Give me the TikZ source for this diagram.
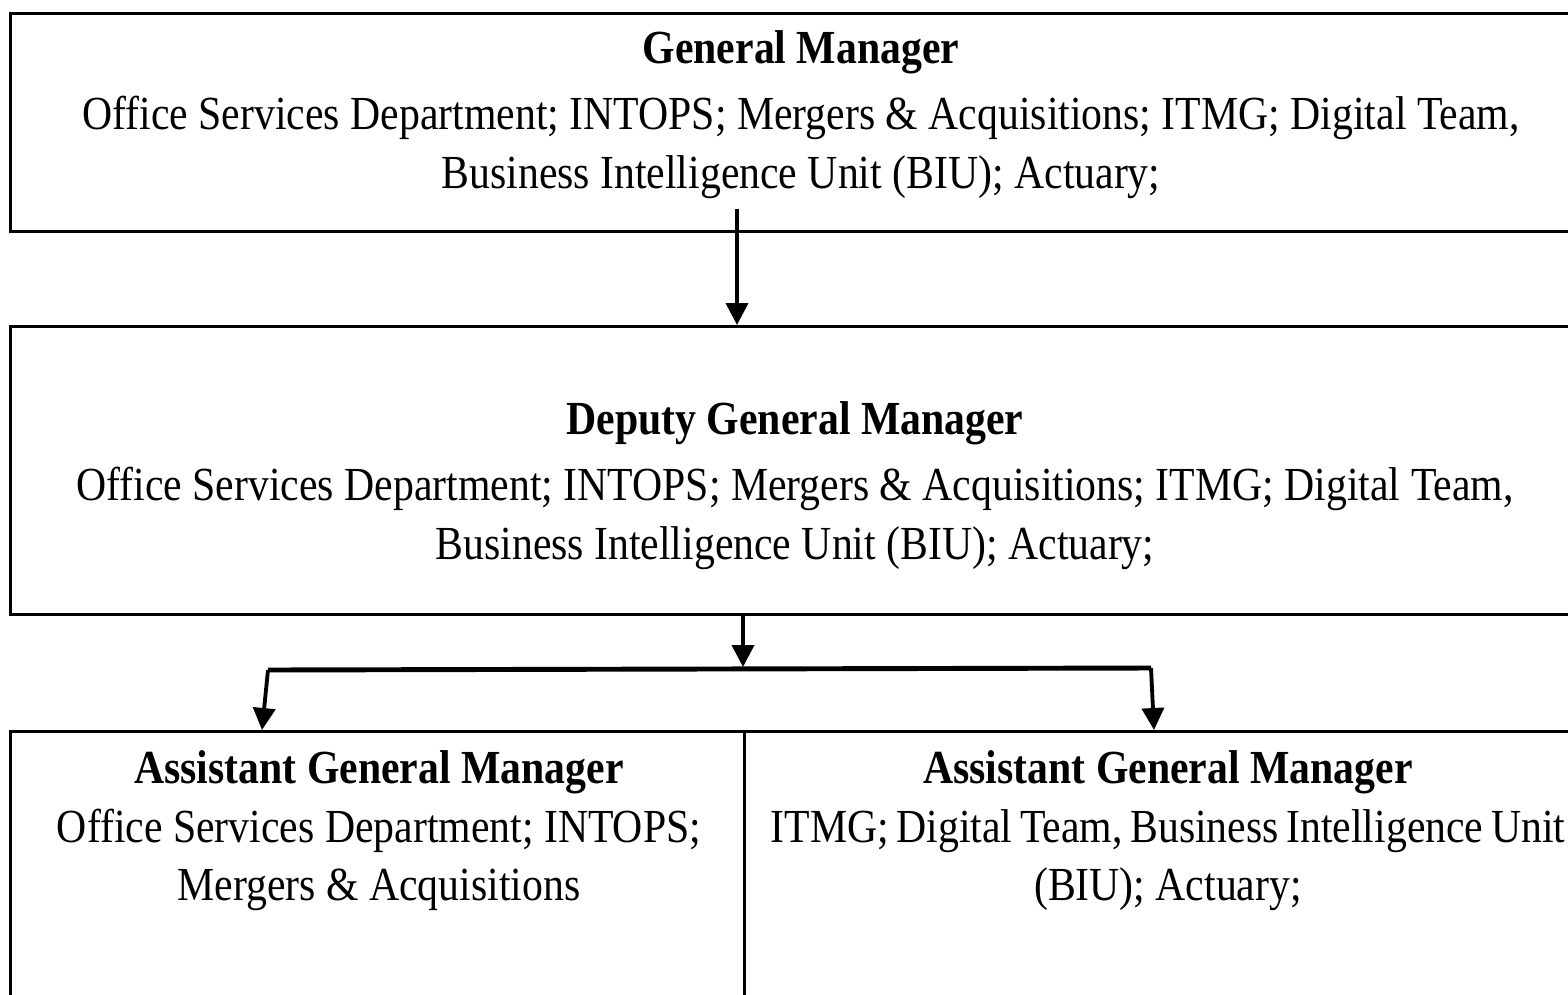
\documentclass[tikz,border=0pt]{standalone}
\usepackage{fontspec}
\setmainfont{Liberation Serif}[FakeStretch=0.88]
\usetikzlibrary{arrows.meta}
\usetikzlibrary{calc}
\usetikzlibrary{positioning}

\begin{document}
\begin{tikzpicture}[x=0.02cm, y=-0.02cm]

% Define styles
\tikzset{
    unitbox/.style={draw=black, line width=1.6pt, rectangle, inner sep=0pt},
    unittext/.style={align=center, inner sep=0pt, font=\fontsize{27}{33.5}\selectfont},
    arr/.style={line width=2.2pt, -{Triangle[width=0.44cm, length=0.44cm]}},
    branch/.style={line width=2.8pt}
}

% page size
\useasboundingbox (0,0) rectangle (1568,994);
\clip (0,0) rectangle (1568,994);

% General manager box (right edge runs off the page)
\node[unitbox, minimum width=1580*0.02cm, minimum height=218*0.02cm, anchor=north west] (gm) at (9,12) {};
\node[unittext] (gmtext) at (801,115) {\textbf{General Manager}\\[4pt]
    Office Services Department; INTOPS; Mergers \& Acquisitions; ITMG; Digital Team,\\
    Business Intelligence Unit (BIU); Actuary;};

% Deputy general manager box
\node[unitbox, minimum width=1580*0.02cm, minimum height=288*0.02cm, anchor=north west] (dgm) at (9,325) {};
\node[unittext] (dgmtext) at (795,486) {\textbf{Deputy General Manager}\\[4pt]
    Office Services Department; INTOPS; Mergers \& Acquisitions; ITMG; Digital Team,\\
    Business Intelligence Unit (BIU); Actuary;};

% Assistant general manager boxes (bottom runs off the page)
\node[unitbox, minimum width=734*0.02cm, minimum height=300*0.02cm, anchor=north west] (agmL) at (9,730) {};
\node[unitbox, minimum width=840*0.02cm, minimum height=300*0.02cm, anchor=north west] (agmR) at (743,730) {};
\node[unittext, anchor=north] (agmLtext) at (379,750) {\textbf{Assistant General Manager}\\
    Office Services Department; INTOPS;\\
    Mergers \& Acquisitions};
\node[unittext, anchor=north] (agmRtext) at (1168,750) {\textbf{Assistant General Manager}\\
    \spaceskip=0.16em ITMG; Digital Team, Business Intelligence Unit\\
    (BIU); Actuary;};

% Connectors
\coordinate (gmout) at (737,209);
\draw[arr] (gmout) -- (gmout |- dgm.north);

\coordinate (split) at (743,667);
\coordinate (splitL) at (268,670);
\coordinate (splitR) at (1151,668);
\draw[arr] (split |- dgm.south) -- (split);
\draw[branch] (splitL) -- (splitR);
\draw[arr] (splitL) -- (262,730);
\draw[arr] (splitR) -- (1154,730);

\end{tikzpicture}
\end{document}
